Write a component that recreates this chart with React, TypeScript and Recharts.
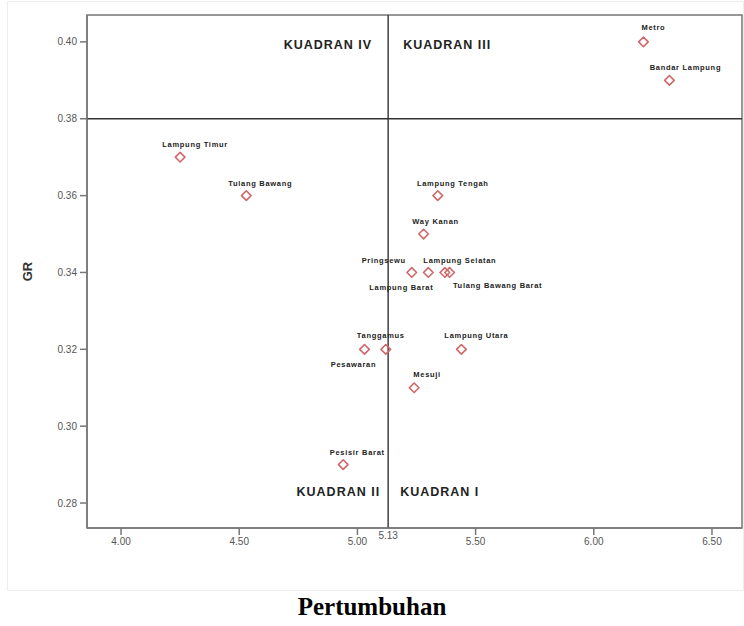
import { ScatterChart, Scatter, XAxis, YAxis, ReferenceLine, ReferenceArea, ReferenceDot } from 'recharts'

// kabupaten / kota, Lampung
const kabupaten = [
  'Metro', 'Bandar Lampung', 'Lampung Timur', 'Tulang Bawang', 'Lampung Tengah',
  'Way Kanan', 'Pringsewu', 'Lampung Barat', 'Lampung Selatan', 'Tulang Bawang Barat',
  'Tanggamus', 'Pesawaran', 'Lampung Utara', 'Mesuji', 'Pesisir Barat',
]
const pertumbuhan = [6.21, 6.32, 4.25, 4.53, 5.34, 5.28, 5.23, 5.30, 5.37, 5.39, 5.12, 5.03, 5.44, 5.24, 4.94]
const gr = [0.40, 0.39, 0.37, 0.36, 0.36, 0.35, 0.34, 0.34, 0.34, 0.34, 0.32, 0.32, 0.32, 0.31, 0.29]

const xTicks = [4.0, 4.5, 5.0, 5.5, 6.0, 6.5]
const yTicks = [0.28, 0.30, 0.32, 0.34, 0.36, 0.38, 0.40]
const meanX = 5.13
const meanY = 0.38
const quadrantTop = ['KUADRAN IV', 'KUADRAN III']
const quadrantBottom = ['KUADRAN II', 'KUADRAN I']

const xDomain = [3.856, 6.627]
const yDomain = [0.2735, 0.407]

// where each name sits relative to its marker (text centre, px)
const labelOffset: Record<string, [number, number]> = {
  'Metro': [10, -14],
  'Bandar Lampung': [16, -13],
  'Lampung Timur': [15, -13],
  'Tulang Bawang': [14, -12],
  'Lampung Tengah': [15, -12],
  'Way Kanan': [12, -13],
  'Pringsewu': [-28, -12],
  'Lampung Barat': [-27, 15],
  'Lampung Selatan': [15, -12],
  'Tulang Bawang Barat': [48, 13],
  'Tanggamus': [-5, -14],
  'Pesawaran': [-11, 15],
  'Lampung Utara': [15, -14],
  'Mesuji': [13, -13],
  'Pesisir Barat': [14, -12],
}

const data = kabupaten.map((name, i) => ({ name, x: pertumbuhan[i], y: gr[i] }))

const font = 'Arial, "Liberation Sans", sans-serif'
const tickStyle = { fontSize: 10, fontFamily: font, fill: '#555' }

const Diamond = (props: any) => {
  const { cx, cy, payload } = props
  const s = 4.8
  const off = labelOffset[payload.name] || [12, -12]
  return (
    <g>
      <polygon
        points={`${cx},${cy - s} ${cx + s},${cy} ${cx},${cy + s} ${cx - s},${cy}`}
        fill="none"
        stroke="#d0686a"
        strokeWidth={1.6}
        strokeLinejoin="round"
      />
      <text
        x={cx + off[0]}
        y={cy + off[1]}
        textAnchor="middle"
        dominantBaseline="central"
        fontSize={7.5}
        fontWeight="bold"
        letterSpacing={0.7}
        fontFamily={font}
        fill="#222"
      >
        {payload.name}
      </text>
    </g>
  )
}

const quadText = (label: string, anchor: 'start' | 'end', dx: number) => (p: any) => (
  <text
    x={p.cx + dx}
    y={p.cy}
    textAnchor={anchor}
    dominantBaseline="central"
    fontSize={12.5}
    fontWeight="bold"
    letterSpacing={1}
    fontFamily={font}
    fill="#222"
  >
    {label}
  </text>
)

export default function App() {
  return (
    <div style={{ position: 'absolute', left: 0, top: 0, width: 744, height: 626, background: '#fff' }}>
      <div style={{ position: 'absolute', left: 7, top: 1, width: 735, height: 588, border: '1px solid #eeeeee' }} />
      <div style={{ position: 'absolute', left: 0, top: 0 }}>
        <ScatterChart width={744} height={626} margin={{ top: 15, right: 2, bottom: 68, left: 27 }}>
          <XAxis
            type="number"
            dataKey="x"
            domain={xDomain}
            allowDataOverflow
            ticks={xTicks}
            tickFormatter={(v: number) => v.toFixed(2)}
            tick={tickStyle}
            tickSize={7}
            tickMargin={3}
            height={30}
            stroke="#777"
            strokeWidth={1.5}
          />
          <YAxis
            type="number"
            dataKey="y"
            domain={yDomain}
            allowDataOverflow
            ticks={yTicks}
            tickFormatter={(v: number) => v.toFixed(2)}
            tick={tickStyle}
            tickSize={7}
            tickMargin={3}
            width={60}
            stroke="#777"
            strokeWidth={1.5}
            label={{ value: 'GR', angle: -90, position: 'left', offset: 0, style: { textAnchor: 'middle', fontSize: 13, fontWeight: 'bold', fontFamily: font, fill: '#333' } }}
          />
          <ReferenceArea x1={xDomain[0]} x2={xDomain[1]} y1={yDomain[0]} y2={yDomain[1]} fill="none" stroke="#777" strokeWidth={1.5} fillOpacity={0} />
          <ReferenceLine y={meanY} stroke="#333" strokeWidth={1.4} />
          <ReferenceLine
            x={meanX}
            stroke="#333"
            strokeWidth={1.4}
            label={{ value: meanX.toFixed(2), position: 'bottom', offset: 4, fontSize: 10, fontFamily: font, fill: '#555' }}
          />
          <ReferenceDot x={meanX} y={0.3992} r={0} shape={quadText(quadrantTop[0], 'end', -16)} />
          <ReferenceDot x={meanX} y={0.3992} r={0} shape={quadText(quadrantTop[1], 'start', 15)} />
          <ReferenceDot x={meanX} y={0.2829} r={0} shape={quadText(quadrantBottom[0], 'end', -8)} />
          <ReferenceDot x={meanX} y={0.2829} r={0} shape={quadText(quadrantBottom[1], 'start', 12)} />
          <Scatter data={data} shape={Diamond} isAnimationActive={false} />
        </ScatterChart>
      </div>
      <div
        style={{
          position: 'absolute', left: 0, top: 593, width: 744, textAlign: 'center',
          fontFamily: '"Liberation Serif", "Times New Roman", serif', fontWeight: 'bold', fontSize: 25,
        }}
      >
        Pertumbuhan
      </div>
    </div>
  )
}
